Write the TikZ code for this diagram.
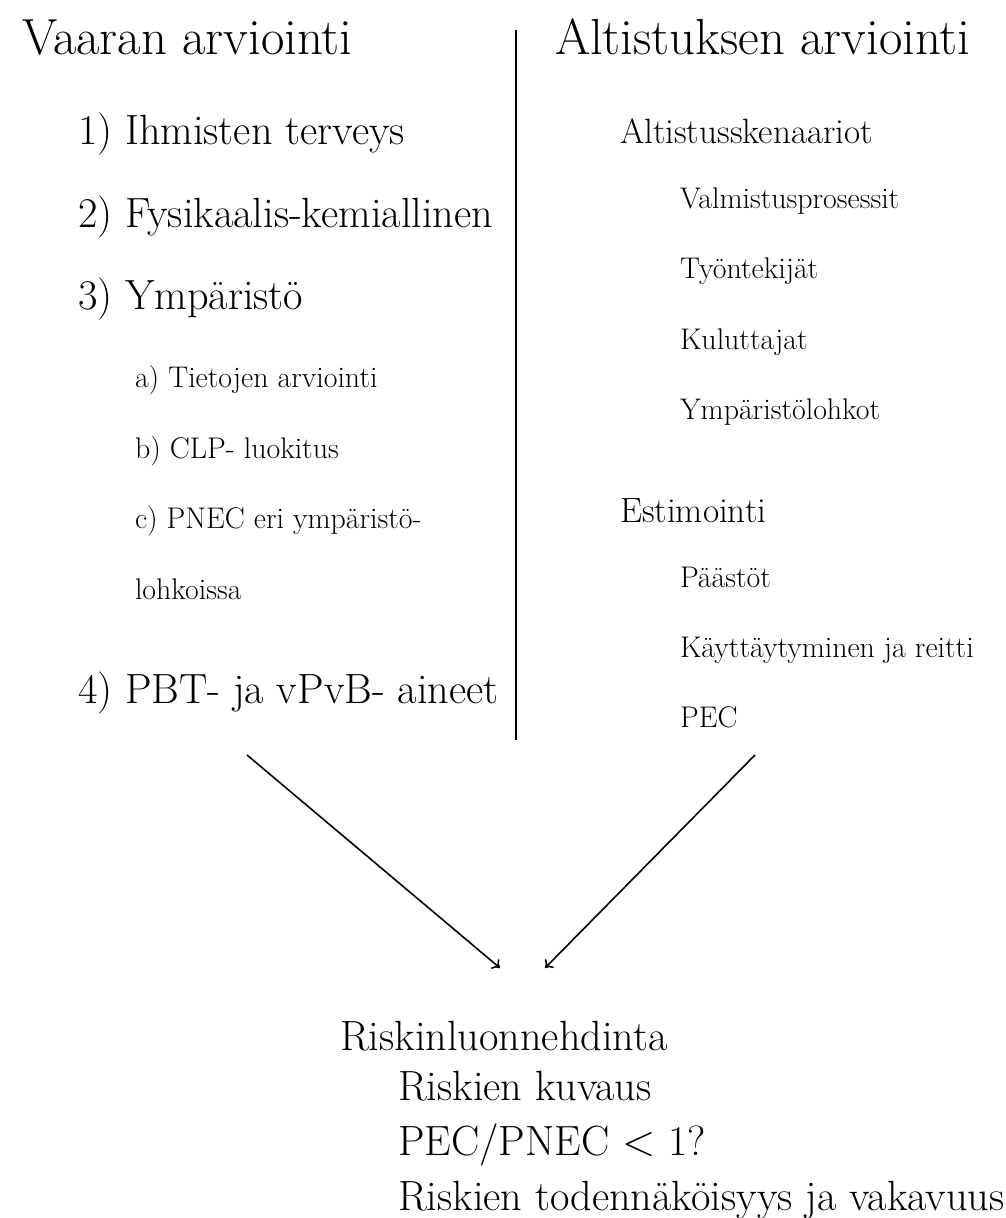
\documentclass[tikz,border=0pt]{standalone}
\usepackage{fontspec}
\usetikzlibrary{arrows.meta}
\begin{document}
\begin{tikzpicture}[x=0.5691pt,y=-0.5691pt,
  txt/.style={anchor=base west,inner sep=0pt,outer sep=0pt},
  head/.style={txt,font=\fontsize{28.9}{34}\selectfont},
  lvone/.style={txt,font=\fontsize{24.06}{29}\selectfont},
  lvtwo/.style={txt,font=\fontsize{17}{20}\selectfont},
  rone/.style={txt,font=\fontsize{20.0}{24}\selectfont},
  conn/.style={line width=0.9pt,-{To[length=4pt,width=7pt]}},
  rule/.style={line width=0.9pt}]
\useasboundingbox (0,0) rectangle (1006,1218);
% headings
\node[head] (vaara) at (22,55) {Vaaran arviointi};
\node[head] (altist) at (555,55) {Altistuksen arviointi};
% divider
\coordinate (divtop) at (516,30);
\coordinate (divbot) at (516,740);
\draw[rule] (divtop) -- (divbot);
% left column
\node[lvone] (h1) at (78,145) {1) Ihmisten terveys};
\node[lvone] (h2) at (78,228) {2) Fysikaalis-kemiallinen};
\node[lvone] (h3) at (78,310) {3) Ympäristö};
\node[lvtwo] (h3a) at (135,387) {a) Tietojen arviointi};
\node[lvtwo] (h3b) at (135,458) {b) CLP- luokitus};
\node[lvtwo] (h3c) at (135,528) {c) PNEC eri ympäristö-};
\node[lvtwo] (h3c2) at (135,599) {lohkoissa};
\node[lvone] (h4) at (78,703) {4) PBT- ja vPvB- aineet};
% right column
\node[rone] (sken) at (620,144) {Altistusskenaariot};
\node[lvtwo] (s1) at (680,209) {Valmistusprosessit};
\node[lvtwo] (s2) at (680,279) {Työntekijät};
\node[lvtwo] (s3) at (680,349) {Kuluttajat};
\node[lvtwo] (s4) at (680,419) {Ympäristölohkot};
\node[rone] (estim) at (620,522) {Estimointi};
\node[lvtwo] (e1) at (680,587) {Päästöt};
\node[lvtwo] (e2) at (680,657) {Käyttäytyminen ja reitti};
\node[lvtwo] (e3) at (680,727) {PEC};
% arrows
\coordinate (la) at (247,755);
\coordinate (lb) at (500,968);
\coordinate (ra) at (755,755);
\coordinate (rb) at (545,968);
\draw[conn] (la) -- (lb);
\draw[conn] (ra) -- (rb);
% bottom
\node[lvone] (risk) at (340,1050) {Riskinluonnehdinta};
\node[lvone] (r1) at (398,1100) {Riskien kuvaus};
\node[lvone] (r2) at (398,1155) {PEC/PNEC $<$ 1?};
\node[lvone] (r3) at (398,1210) {Riskien todennäköisyys ja vakavuus};
\end{tikzpicture}
\end{document}
